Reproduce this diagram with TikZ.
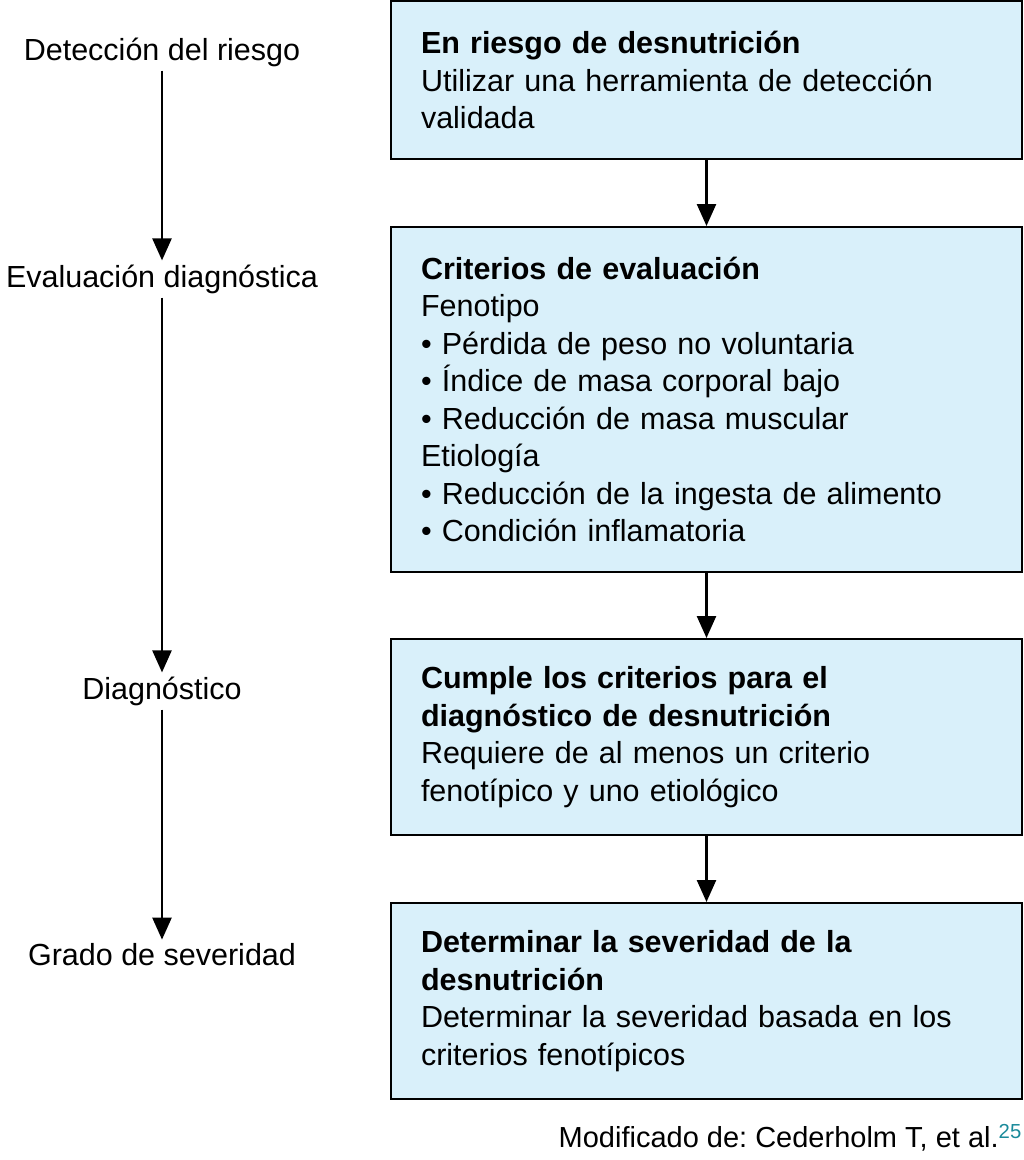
\documentclass[tikz,border=0pt]{standalone}
\usepackage{fontspec}
\setmainfont{Liberation Sans}
\usetikzlibrary{arrows.meta}
\definecolor{boxblue}{HTML}{D9F0FA}
\definecolor{refteal}{HTML}{1A8A9A}
\begin{document}
\frenchspacing
\begin{tikzpicture}[x=1pt,y=-1pt,
  every node/.style={font=\fontsize{30.5}{37.5}\selectfont},
  stagebox/.style={draw=black,line width=2pt,fill=boxblue,text width=571pt,
    inner xsep=30pt,inner ysep=0pt,align=left,anchor=north west},
  phase/.style={inner sep=4pt},
  arr/.style={line width=2.5pt,-{Triangle[length=22pt,width=19pt]}}]

\useasboundingbox (0,0) rectangle (1024,1160);

% stages (left)
\node[phase] (detect) at (162,52) {Detección del riesgo};
\node[phase] (eval) at (162,279) {Evaluación diagnóstica};
\node[phase] (diag) at (162,691) {Diagnóstico};
\node[phase] (grade) at (162,955) {Grado de severidad};

% boxes (right)
\node[stagebox,minimum height=158pt] (risk) at (390,0)
  {\textbf{En riesgo de desnutrición}\\
   Utilizar una herramienta de detección\\
   validada};
\node[stagebox,minimum height=345pt] (crit) at (390,226)
  {\textbf{Criterios de evaluación}\\
   Fenotipo\\
   • Pérdida de peso no voluntaria\\
   • Índice de masa corporal bajo\\
   • Reducción de masa muscular\\
   Etiología\\
   • Reducción de la ingesta de alimento\\
   • Condición inflamatoria};
\node[stagebox,minimum height=196pt] (meets) at (390,638)
  {\textbf{Cumple los criterios para el}\\
   \textbf{diagnóstico de desnutrición}\\
   Requiere de al menos un criterio\\
   fenotípico y uno etiológico};
\node[stagebox,minimum height=196pt] (sever) at (390,902)
  {\textbf{Determinar la severidad de la}\\
   \textbf{desnutrición}\\
   Determinar la severidad basada en los\\
   criterios fenotípicos};

% arrows
\draw[arr] (detect) -- (eval);
\draw[arr] (eval) -- (diag);
\draw[arr] (diag) -- (grade);
\draw[arr] (risk) -- (crit);
\draw[arr] (crit) -- (meets);
\draw[arr] (meets) -- (sever);

% source
\node[anchor=east,inner sep=2pt,font=\fontsize{29}{35}\selectfont] (src) at (1024,1138)
  {Modificado de: Cederholm T, et al.\textsuperscript{\color{refteal}25}};

\end{tikzpicture}
\end{document}
